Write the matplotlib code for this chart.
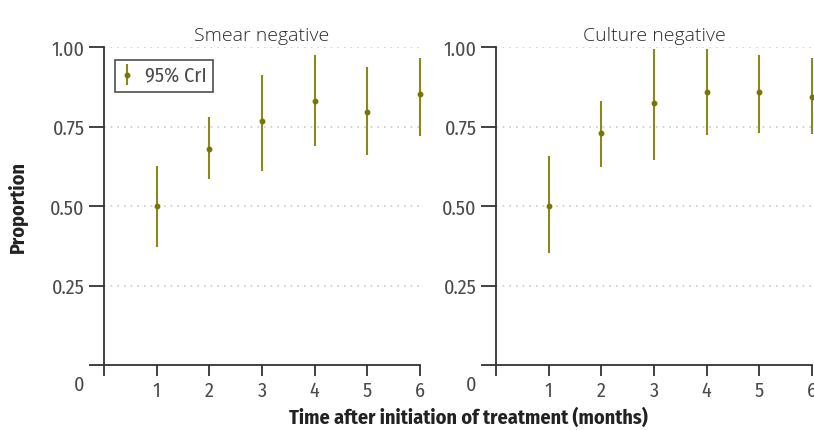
import matplotlib
matplotlib.use("Agg")
import matplotlib.pyplot as plt

narrow = "Fira Sans Condensed"
light = "Open Sans"

months = [1, 2, 3, 4, 5, 6]
panels = ["Smear negative", "Culture negative"]
smear_mid = [0.50, 0.679, 0.767, 0.830, 0.796, 0.852]
smear_lo = [0.371, 0.585, 0.610, 0.689, 0.660, 0.720]
smear_hi = [0.626, 0.780, 0.912, 0.975, 0.937, 0.965]
culture_mid = [0.50, 0.730, 0.824, 0.858, 0.858, 0.843]
culture_lo = [0.352, 0.623, 0.645, 0.723, 0.730, 0.726]
culture_hi = [0.657, 0.830, 0.994, 0.994, 0.975, 0.965]
yticks = [0, 0.25, 0.5, 0.75, 1.0]
ytick_labels = ["", "0.25", "0.50", "0.75", "1.00"]
xticks = [0, 1, 2, 3, 4, 5, 6]
xtick_labels = ["", "1", "2", "3", "4", "5", "6"]

line_c = "#8a8a1a"
pt_c = "#767600"
ax_c = "#333333"
txt_c = "#4a4a4a"

fig = plt.figure(figsize=(8.14, 4.31), dpi=100)
lefts = [104 / 814, 496 / 814]
bottom = 65 / 431
height = 318 / 431
width = 316 / 814

data = [(smear_mid, smear_lo, smear_hi), (culture_mid, culture_lo, culture_hi)]
for i, (title, (mid, lo, hi)) in enumerate(zip(panels, data)):
    ax = fig.add_axes([lefts[i], bottom, width, height])
    ax.set_xlim(0, 6)
    ax.set_ylim(0, 1)
    for y in yticks[1:]:
        ax.axhline(y, color="#cccccc", lw=1.2, ls=(0, (1, 3)), zorder=0)
    yerr = [[m - l for m, l in zip(mid, lo)], [h - m for m, h in zip(mid, hi)]]
    ax.errorbar(months, mid, yerr=yerr, fmt="o", ms=3.2, color=pt_c,
                ecolor=line_c, elinewidth=1.5, capsize=0, clip_on=False,
                label="95% CrI", zorder=3)
    for s in ["top", "right"]:
        ax.spines[s].set_visible(False)
    for s in ["left", "bottom"]:
        ax.spines[s].set_color(ax_c)
        ax.spines[s].set_linewidth(1.3)
    ax.set_xticks(xticks)
    ax.set_xticklabels(xtick_labels, family=narrow, fontweight="normal", fontsize=14.5, color=txt_c)
    ax.set_yticks(yticks)
    ax.set_yticklabels(ytick_labels, family=narrow, fontweight="normal", fontsize=14.5, color=txt_c)
    ax.tick_params(axis="both", direction="out", length=11, width=1.3, color=ax_c, pad=3)
    ax.tick_params(axis="x", length=8, pad=3)
    ax.annotate("0", xy=(0, 0), xycoords="axes fraction", xytext=(-14, -7),
                textcoords="offset points", ha="right", va="top",
                family=narrow, fontweight="normal", fontsize=14.5, color=txt_c)
    ax.set_title(title, family=light, fontweight="light", fontsize=14, color="#2a2a2a", pad=5)
    if i == 0:
        leg = ax.legend(loc="upper left", bbox_to_anchor=(0.035, 0.959), frameon=True,
                        fancybox=False, handlelength=0.6, handletextpad=0.6,
                        borderpad=0.3, borderaxespad=0,
                        prop={"family": narrow, "weight": "normal", "size": 14.5})
        leg.get_frame().set_edgecolor("#222222")
        leg.get_frame().set_linewidth(1.2)
        for t in leg.get_texts():
            t.set_color(txt_c)

fig.text(18 / 814, 1 - 207 / 431, "Proportion", rotation=90, ha="center", va="center",
         family=narrow, fontweight="bold", fontsize=14.5, color="#222222")
fig.text(468 / 814, 1 - 418 / 431, "Time after initiation of treatment (months)",
         ha="center", va="center", family=narrow, fontweight="bold", fontsize=14.5,
         color="#222222")

fig.savefig("out.png", dpi=100)
